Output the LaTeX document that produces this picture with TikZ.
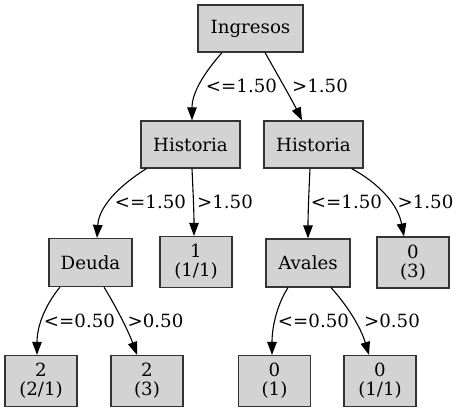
\documentclass[tikz,border=0pt]{standalone}
\usepackage{fontspec}
\setmainfont{DejaVu Serif}
\usetikzlibrary{arrows.meta}
\begin{document}
\begin{tikzpicture}[x=1pt,y=-1pt,
  box/.style={draw=black!80,fill={rgb,255:red,211;green,211;blue,211},line width=1.2pt,rectangle,inner sep=0pt,
    font=\fontsize{18.2}{19}\selectfont,align=center,minimum height=47pt},
  leaf/.style={box,minimum width=72pt,minimum height=51pt},
  lbl/.style={font=\fontsize{18.2}{19}\selectfont,inner sep=0pt},
  edge/.style={draw=black,line width=1.1pt,-{Triangle[length=13pt,width=9.5pt]}}]
\useasboundingbox (0,0) rectangle (461,412);
\node[box,minimum width=105pt] (ing) at (250.5,28.5) {Ingresos};
\node[box,minimum width=99pt] (hl) at (190.5,144.5) {Historia};
\node[box,minimum width=99pt] (hr) at (313.5,144.5) {Historia};
\node[box,minimum width=83pt,minimum height=48pt] (deu) at (90.5,262.5) {Deuda};
\node[leaf] (n1) at (196,262) {1\\(1/1)};
\node[box,minimum width=84pt,minimum height=48pt] (ava) at (308,263) {Avales};
\node[leaf] (n03) at (413,262.5) {0\\(3)};
\node[leaf] (n221) at (41,381) {2\\(2/1)};
\node[leaf] (n23) at (147,381) {2\\(3)};
\node[leaf] (n01) at (274.5,381) {0\\(1)};
\node[leaf] (n011) at (380,381) {0\\(1/1)};
% edges
\draw[edge] ([xshift=-28.5pt]ing.south) .. controls (205,72) and (192,92) .. ([xshift=1.5pt]hl.north);
\draw[edge] ([xshift=14.5pt]ing.south) .. controls (276,72) and (292,100) .. ([xshift=-11.5pt]hr.north);
\draw[edge] ([xshift=6pt]hl.south west) .. controls (122,184) and (99,205) .. ([xshift=6.5pt]deu.north);
\draw[edge] ([xshift=1.5pt]hl.south) .. controls (193,190) and (194,212) .. (n1.north -| 194,0);
\draw[edge] ([xshift=-3.5pt]hr.south) .. controls (309,190) and (308,212) .. (ava.north);
\draw[edge] ([xshift=-12pt]hr.south east) .. controls (380,184) and (398,205) .. ([xshift=-9pt]n03.north);
\draw[edge] ([xshift=-30.5pt]deu.south) .. controls (46,304) and (37,325) .. ([xshift=-4pt]n221.north);
\draw[edge] ([xshift=13.5pt]deu.south) .. controls (115,305) and (128,330) .. ([xshift=-10pt]n23.north);
\draw[edge] ([xshift=-20pt]ava.south) .. controls (278,303) and (272,325) .. ([xshift=-2.5pt]n01.north);
\draw[edge] ([xshift=23pt]ava.south) .. controls (345,303) and (360,325) .. ([xshift=-11pt]n011.north);
% labels
\node[lbl] (l1) at (241.5,86) {<=1.50};
\node[lbl] (l2) at (320,86) {>1.50};
\node[lbl] (l3) at (150.5,202) {<=1.50};
\node[lbl] (l4) at (225,202) {>1.50};
\node[lbl] (l5) at (346.5,202) {<=1.50};
\node[lbl] (l6) at (425.5,202) {>1.50};
\node[lbl] (l7) at (79.5,321) {<=0.50};
\node[lbl] (l8) at (155.5,321) {>0.50};
\node[lbl] (l9) at (313.5,321) {<=0.50};
\node[lbl] (l10) at (392,321) {>0.50};
\end{tikzpicture}
\end{document}
